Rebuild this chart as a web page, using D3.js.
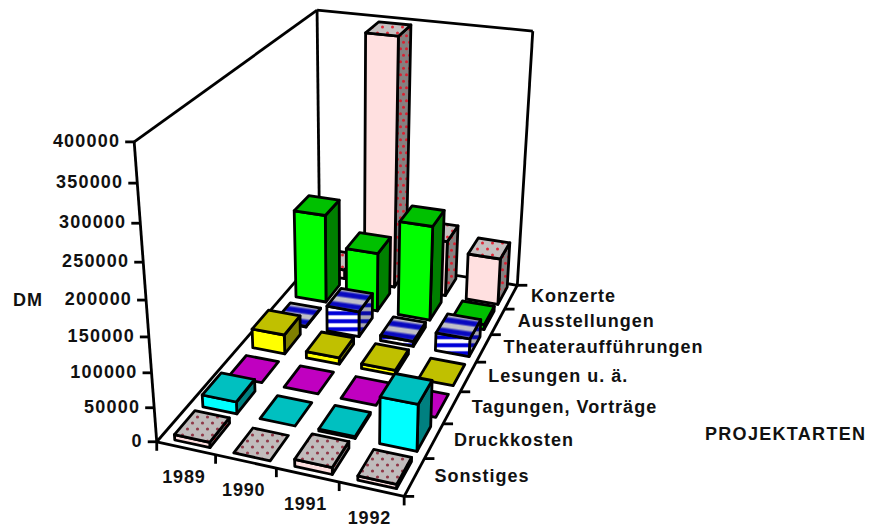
<!DOCTYPE html>
<html>

<head>
  <meta charset='utf-8'>
  <title>Projektarten</title>
  <script type='text/javascript' src='https://cdn.jsdelivr.net/npm/d3@7'></script>
  <style>
    html, body { margin: 0; padding: 0; background: #fff; }
    text { font-family: "Liberation Sans", Arial, sans-serif; font-weight: bold; font-size: 18px; fill: #111; }
  </style>
</head>

<body>
  <script type='text/javascript'>
    const years = ['1989', '1990', '1991', '1992'];
    // front to back
    const categories = ['Sonstiges', 'Druckkosten', 'Tagungen, Vorträge', 'Lesungen u. ä.', 'Theateraufführungen', 'Ausstellungen', 'Konzerte'];
    const sonstiges = [8000, 0, 10000, 6000];
    const druckkosten = [18000, 0, 3000, 68000];
    const tagungen = [0, 0, 0, 0];
    const lesungen = [30000, 10000, 7000, 0];
    const theater = [1000, 40000, 8000, 28000];
    const ausstellungen = [142000, 94000, 150000, 8000];
    const konzerte = [15000, 395000, 90000, 75000];
    const valueTicks = [0, 50000, 100000, 150000, 200000, 250000, 300000, 350000, 400000];

    const series = [sonstiges, druckkosten, tagungen, lesungen, theater, ausstellungen, konzerte];
    const faceStyle = [
      { front: '#ffe0e0', top: 'url(#dotsDark)', side: 'url(#dotsSide)' },
      { front: '#00ffff', top: '#00c0c0', side: '#008080' },
      { front: '#ff00ff', top: '#c000c0', side: '#800080' },
      { front: '#ffff00', top: '#c0c000', side: '#808000' },
      { front: 'url(#stripeFront)', top: 'url(#stripeTop)', side: 'url(#stripeSide)' },
      { front: '#00ff00', top: '#00c000', side: '#008000' },
      { front: '#ffe0e0', top: 'url(#dotsTop)', side: 'url(#dotsSide)' }
    ];

    const width = 870;
    const height = 527;

    // box corners on screen, used to fit the perspective camera
    const anchors = [
      [[0, 0, 0], [158, 442]],
      [[1, 0, 0], [403, 497]],
      [[1, 0, 1], [518, 284]],
      [[0, 0, 1], [319, 254]],
      [[0, 1, 0], [134, 141]],
      [[0, 1, 1], [317, 10]],
      [[1, 1, 1], [533, 32]]
    ];

    function solve(A, b) {
      const n = b.length;
      const M = A.map((row, i) => [...row, b[i]]);
      for (let c = 0; c < n; c++) {
        let best = c;
        for (let r = c + 1; r < n; r++) if (Math.abs(M[r][c]) > Math.abs(M[best][c])) best = r;
        [M[c], M[best]] = [M[best], M[c]];
        for (let r = 0; r < n; r++) {
          if (r === c) continue;
          const f = M[r][c] / M[c][c];
          for (let k = c; k <= n; k++) M[r][k] -= f * M[c][k];
        }
      }
      return M.map((row, i) => row[n] / row[i]);
    }

    function fitCamera() {
      const rows = [], rhs = [];
      anchors.forEach(([[X, Y, Z], [u, v]]) => {
        rows.push([X, Y, Z, 1, 0, 0, 0, 0, -u * X, -u * Y, -u * Z]); rhs.push(u);
        rows.push([0, 0, 0, 0, X, Y, Z, 1, -v * X, -v * Y, -v * Z]); rhs.push(v);
      });
      const AtA = d3.range(11).map(i => d3.range(11).map(j => d3.sum(rows, r => r[i] * r[j])));
      const Atb = d3.range(11).map(i => d3.sum(rows, (r, k) => r[i] * rhs[k]));
      return solve(AtA, Atb);
    }

    const cam = fitCamera();
    function project(X, Y, Z) {
      const w = cam[8] * X + cam[9] * Y + cam[10] * Z + 1;
      return [
        (cam[0] * X + cam[1] * Y + cam[2] * Z + cam[3]) / w,
        (cam[4] * X + cam[5] * Y + cam[6] * Z + cam[7]) / w
      ];
    }

    const xScale = d3.scaleBand().domain(years).range([0.01, 1.01]).paddingInner(0.4).paddingOuter(0.2);
    const zScale = d3.scaleBand().domain(categories).range([0, 1]).paddingInner(0.28).paddingOuter(0.14);
    const yScale = d3.scaleLinear().domain([0, 400000]).range([0, 1]);
    const xEdge = d3.scaleLinear().domain([0, years.length]).range([0, 1]);
    const zEdge = d3.scaleLinear().domain([0, categories.length]).range([0, 1]);

    const svg = d3.select('body').append('svg').attr('width', width).attr('height', height).style('display', 'block');
    const defs = svg.append('defs');

    function dots(id, bg, dot, r, w, h) {
      const p = defs.append('pattern').attr('id', id).attr('patternUnits', 'userSpaceOnUse')
        .attr('width', w).attr('height', h);
      p.append('rect').attr('width', w).attr('height', h).attr('fill', bg);
      [[w / 4, h / 4], [3 * w / 4, 3 * h / 4]].forEach(c => p.append('circle').attr('cx', c[0]).attr('cy', c[1]).attr('r', r).attr('fill', dot));
    }
    dots('dotsTop', '#c4c0c0', '#e02838', 1.5, 10, 12);
    dots('dotsDark', '#c0bcbc', '#903848', 1.6, 10, 12);
    dots('dotsSide', '#858080', '#d82030', 1.5, 6, 13);

    function stripes(id, c1, c2, size, angle) {
      const g = defs.append('linearGradient').attr('id', id + 'G').attr('x1', 0).attr('x2', 0).attr('y1', 0).attr('y2', 1);
      [[0, c1], [0.3, c1], [0.5, c2], [0.8, c2], [1, c1]].forEach(s => g.append('stop').attr('offset', s[0]).attr('stop-color', s[1]));
      const p = defs.append('pattern').attr('id', id).attr('patternUnits', 'userSpaceOnUse')
        .attr('width', 20).attr('height', size).attr('patternTransform', `rotate(${angle})`);
      p.append('rect').attr('width', 20).attr('height', size).attr('fill', `url(#${id}G)`);
    }
    stripes('stripeFront', '#0000d8', '#ffffff', 8, 0);
    stripes('stripeTop', '#0808c0', '#c0c0c8', 11, 8);
    stripes('stripeSide', '#0808a8', '#a8a8b0', 8, 0);

    const poly = pts => 'M' + pts.map(p => p.map(v => v.toFixed(1)).join(',')).join('L') + 'Z';
    const line = (a, b) => `M${a[0]},${a[1]}L${b[0]},${b[1]}`;

    // walls and floor outline
    const frame = svg.append('g').attr('fill', 'none').attr('stroke', '#000').attr('stroke-width', 2.8).attr('stroke-linejoin', 'round');
    [
      [[0, 0, 0], [0, 1, 0]], [[0, 1, 0], [0, 1, 1]], [[0, 1, 1], [1, 1, 1]], [[1, 1, 1], [1, 0, 1]],
      [[0, 1, 1], [0, 0, 1]], [[0, 0, 0], [1, 0, 0]], [[1, 0, 0], [1, 0, 1]], [[0, 0, 0], [0, 0, 1]], [[0, 0, 1], [1, 0, 1]]
    ].forEach(e => frame.append('path').attr('d', line(project(...e[0]), project(...e[1]))));

    // value axis
    valueTicks.forEach(v => {
      const p = project(0, yScale(v), 0);
      frame.append('path').attr('d', line(p, [p[0] - 9, p[1]]));
      svg.append('text').attr('x', p[0] - 14).attr('y', p[1] + 5).attr('text-anchor', 'end').attr('letter-spacing', 1.2).text(v);
    });

    // year axis
    d3.range(years.length + 1).forEach(i => {
      const p = project(xEdge(i), 0, 0);
      frame.append('path').attr('d', line(p, [p[0], p[1] + 9]));
    });
    years.forEach((y, i) => {
      const p = project(xEdge(i + 0.5), 0, 0);
      svg.append('text').attr('x', p[0] - 2).attr('y', p[1] + 35).attr('text-anchor', 'middle').attr('letter-spacing', 0.8).text(y);
    });

    // category axis
    d3.range(categories.length + 1).forEach(i => {
      const p = project(1, 0, zEdge(i));
      frame.append('path').attr('d', line(p, [p[0] + 10, p[1]]));
    });
    categories.forEach((c, i) => {
      const p = project(1, 0, zEdge(i + 0.5));
      svg.append('text').attr('x', p[0] + 20).attr('y', p[1] + 5).attr('letter-spacing', 1).text(c);
    });

    svg.append('text').attr('x', 13).attr('y', 306).attr('letter-spacing', 1).text('DM');
    svg.append('text').attr('x', 705).attr('y', 440).attr('letter-spacing', 1.3).text('PROJEKTARTEN');

    // bars, back row first, left to right
    const bars = svg.append('g').attr('stroke', '#000').attr('stroke-width', 2.8).attr('stroke-linejoin', 'round');
    d3.range(categories.length - 1, -1, -1).forEach(c => {
      years.forEach((year, i) => {
        const v = series[c][i];
        const x0 = xScale(year), x1 = x0 + xScale.bandwidth();
        const z0 = zScale(categories[c]), z1 = z0 + zScale.bandwidth();
        const h = yScale(v);
        const st = faceStyle[c];
        if (v > 0) {
          bars.append('path').attr('fill', st.side).attr('d', poly([project(x1, 0, z0), project(x1, 0, z1), project(x1, h, z1), project(x1, h, z0)]));
          bars.append('path').attr('fill', st.front).attr('d', poly([project(x0, 0, z0), project(x1, 0, z0), project(x1, h, z0), project(x0, h, z0)]));
        }
        bars.append('path').attr('fill', st.top).attr('d', poly([project(x0, h, z0), project(x1, h, z0), project(x1, h, z1), project(x0, h, z1)]));
      });
    });
  </script>
</body>

</html>
